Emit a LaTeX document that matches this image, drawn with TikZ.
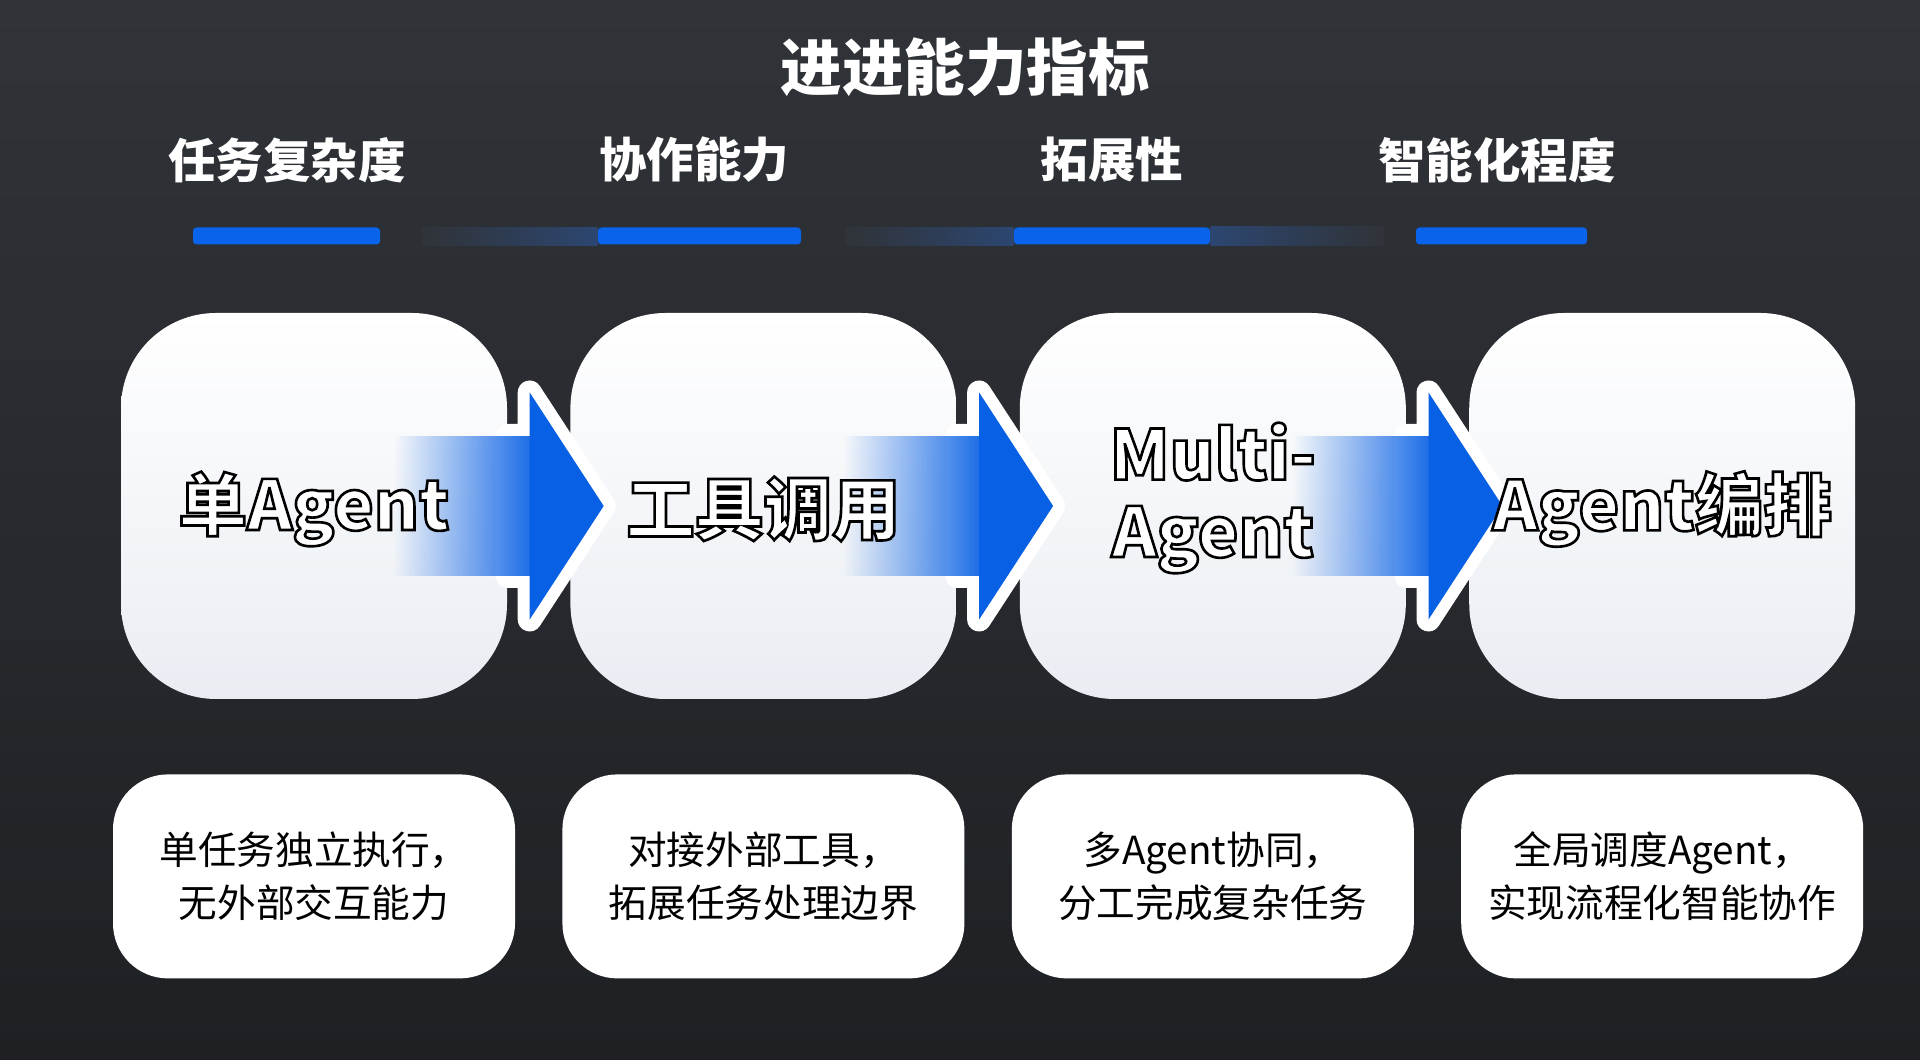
\documentclass[tikz,border=0pt]{standalone}
\usepackage{fontspec}
\setmainfont{Noto Sans CJK SC}
\usepackage{xcolor}
\usepackage{tikz}
\usetikzlibrary{positioning, calc, fadings}
\definecolor{bgtop}{RGB}{48, 51, 56}
\definecolor{bgbottom}{RGB}{30, 32, 36}
\definecolor{barblue}{RGB}{10, 100, 235}
\definecolor{fadeblue}{RGB}{44, 70, 112}
\definecolor{arrowblue}{RGB}{8, 96, 228}
\definecolor{boxlow}{RGB}{233, 237, 243}
% white letters with a thin black rim
\newcommand\rimtext[1]{\special{pdf:code q 2 Tr 0 0 0 RG 0.75 w}#1\special{pdf:code Q}}

\begin{document}
\begin{tikzpicture}[
    title/.style={font=\fontsize{17.5}{20}\selectfont\bfseries, text=white},
    metric/.style={font=\fontsize{13.5}{16}\selectfont\bfseries, text=white},
    bar/.style={rectangle, fill=barblue, minimum height=0.17cm, inner sep=0pt, rounded corners=1pt},
    stage/.style={
      rectangle, rounded corners=0.95cm, minimum width=3.86cm, minimum height=3.86cm,
      top color=white, bottom color=boxlow, inner sep=0pt
    },
    stagetext/.style={font=\fontsize{19.5}{22}\selectfont\bfseries, text=white, align=center},
    desc/.style={
      rectangle, rounded corners=0.55cm, fill=white, minimum width=4.02cm, minimum height=2.04cm,
      align=center, font=\fontsize{11}{15}\selectfont, text=black
    },
    flow/.style={draw=white, fill=white, line width=0.24cm, line join=round}
]
  \useasboundingbox (0,0) rectangle (19.2,10.6);
  \shade[top color=bgtop, bottom color=bgbottom] (0,0) rectangle (19.2,10.6);

  % Title and metrics
  \node[title] (head) at (9.65,9.93) {进进能力指标};
  \node[metric] (m1) at (2.87,9.00)  {任务复杂度};
  \node[metric] (m2) at (6.94,9.00)  {协作能力};
  \node[metric] (m3) at (11.12,9.00) {拓展性};
  \node[metric] (m4) at (14.97,9.00) {智能化程度};

  \node[bar, minimum width=1.87cm] (bar1) at (2.865,8.24)  {};
  \node[bar, minimum width=2.03cm] (bar2) at (6.995,8.24)  {};
  \node[bar, minimum width=1.96cm] (bar3) at (11.12,8.24)  {};
  \node[bar, minimum width=1.71cm] (bar4) at (15.015,8.24) {};

  % Faded links between bars
  \shade[left color=bgtop, right color=fadeblue] ($(bar1.east)+(0.42,0.085)$) rectangle (bar2.south west);
  \shade[left color=bgtop, right color=fadeblue] ($(bar2.east)+(0.44,0.085)$) rectangle (bar3.south west);
  \shade[left color=fadeblue, right color=bgtop] (bar3.north east) rectangle ($(bar4.south west)+(-0.32,0)$);

  % Stages
  \node[stage] (s1) at (3.14,5.54) {};
  \node[stage, right=0.62cm of s1] (s2) {};
  \node[stage, right=0.62cm of s2] (s3) {};
  \node[stage, right=0.62cm of s3] (s4) {};

  % Arrows
  \foreach \a in {s1, s2, s3} {
    \begin{scope}[shift={(\a.east)}]
      \path[flow] (0,0.70) -- (0.22,0.70) -- (0.22,1.135) -- (0.96,0)
        -- (0.22,-1.135) -- (0.22,-0.70) -- (0,-0.70) -- cycle;
      \fill[arrowblue!92, path fading=west] (-1.14,-0.70) rectangle (0.23,0.70);
      \fill[arrowblue] (0.22,1.135) -- (0.96,0) -- (0.22,-1.135) -- cycle;
    \end{scope}
  }

  % Stage labels
  \node[stagetext] (l1) at ($(s1)+(0,-0.03)$) {\rimtext{单Agent}};
  \node[stagetext] (l2) at ($(s2)+(0,-0.03)$) {\rimtext{工具调用}};
  \node[stagetext] (l3) at ($(s3)+(0,0.08)$) {\rimtext{Multi-}\\\rimtext{Agent}};
  \node[stagetext] (l4) at ($(s4)+(0,-0.03)$) {\rimtext{Agent编排}};

  % Descriptions
  \node[desc, below=0.74cm of s1] (d1) {单任务独立执行，\\无外部交互能力};
  \node[desc, below=0.74cm of s2] (d2) {对接外部工具，\\拓展任务处理边界};
  \node[desc, below=0.74cm of s3] (d3) {多Agent协同，\\分工完成复杂任务};
  \node[desc, below=0.74cm of s4] (d4) {全局调度Agent，\\实现流程化智能协作};
\end{tikzpicture}
\end{document}
